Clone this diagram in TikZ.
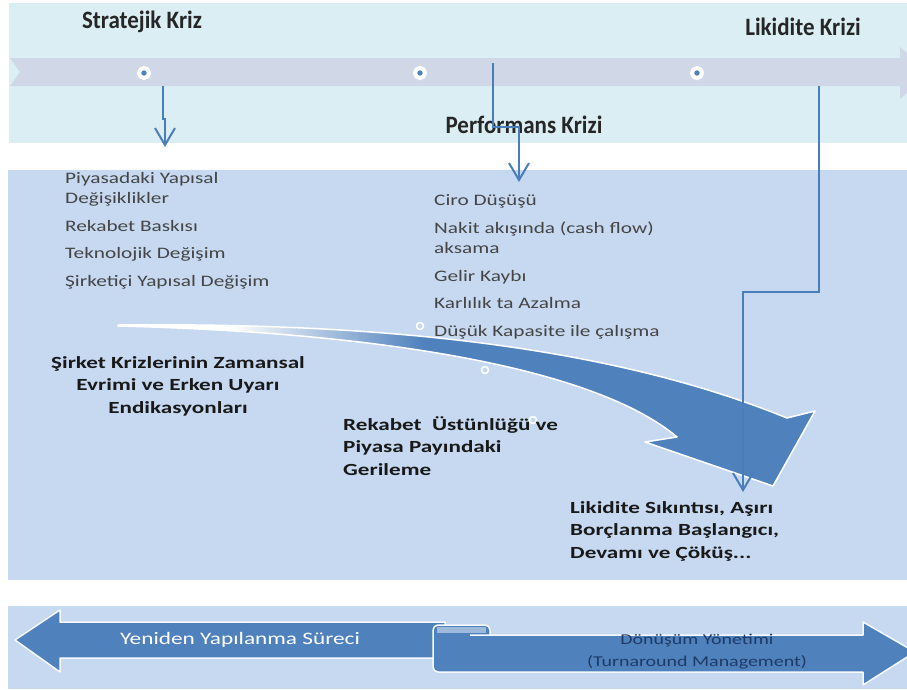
\documentclass[tikz,border=0pt]{standalone}
\usepackage{fontspec}
\setmainfont{Carlito}
\newfontfamily\widefont[FakeStretch=1.33]{Carlito}
\newfontfamily\boldwidefont[FakeStretch=1.36]{Carlito}
\newfontfamily\narrowfont[FakeStretch=0.92]{Carlito}
\usetikzlibrary{arrows.meta}

\definecolor{bandcyan}{HTML}{DBEEF4}
\definecolor{timeband}{HTML}{D0D8E8}
\definecolor{boxblue}{HTML}{C6D9F1}
\definecolor{arrowblue}{HTML}{4F81BD}
\definecolor{linkblue}{HTML}{4A7EBB}
\definecolor{listgrey}{HTML}{454545}
\definecolor{navytext}{HTML}{1F3A66}
\pgfdeclarehorizontalshading{tailfade}{100bp}{color(0bp)=(white); color(33bp)=(white); color(47bp)=(arrowblue); color(100bp)=(arrowblue)}

\begin{document}
\begin{tikzpicture}[x=1pt, y=-1pt,
    conn/.style={draw=linkblue, line width=2pt, -{Straight Barb[length=17pt,width=20pt]}},
    dotmark/.style={circle, fill=arrowblue, draw=white, line width=4pt, minimum size=10pt, inner sep=0pt},
    bubble/.style={circle, fill=boxblue, draw=white, line width=1.5pt, minimum size=7pt, inner sep=0pt},
    headtext/.style={font=\narrowfont\bfseries\fontsize{25}{28}\selectfont, text=black!85, inner sep=0pt},
    listtext/.style={font=\widefont\fontsize{16}{20}\selectfont, text=listgrey, align=left, inner sep=0pt},
    boldtext/.style={font=\boldwidefont\bfseries\fontsize{17}{22.5}\selectfont, text=black!90, inner sep=0pt}]
  \useasboundingbox (0,0) rectangle (907,689);
  \clip (0,0) rectangle (907,689);

  % backgrounds
  \fill[bandcyan] (9,3) rectangle (907,143);
  \fill[boxblue] (8,170) rectangle (907,580);
  \fill[boxblue] (8,606) rectangle (907,689);

  % time line
  \fill[timeband] (10,58) -- (900,58) -- (900,47) -- (930,73) -- (900,99) -- (900,86) -- (10,86) -- (20,72) -- cycle;
  \node[dotmark] (dot1) at (144,73) {};
  \node[dotmark] (dot2) at (420,73) {};
  \node[dotmark] (dot3) at (697,73) {};

  \node[headtext] (strategic) at (142,22) {Stratejik Kriz};
  \node[headtext] (performance) at (524,125) {Performans Krizi};
  \node[headtext] (liquidity) at (803,27) {Likidite Krizi};

  % curved arrow
  \path[shading=tailfade, draw=white, line width=1.5pt, line join=round]
    (118,325) .. controls (400,322) and (620,350) .. (787,418)
    -- (815,411) -- (773,486) -- (645,442) -- (677,437)
    .. controls (600,372) and (400,333) .. (118,326) -- cycle;
  \node[bubble] (bub1) at (420,326) {};
  \node[bubble] (bub2) at (485,370) {};
  \node[bubble] (bub3) at (533,420) {};

  % lists
  \node[listtext, anchor=north west] (causes) at (65,172)
    {Piyasadaki Yapısal\\Değişiklikler\\[8pt]Rekabet Baskısı\\[7.5pt]Teknolojik Değişim\\[8pt]Şirketiçi Yapısal Değişim};
  \node[listtext, anchor=north west] (signs) at (434,194)
    {Ciro Düşüşü\\[8pt]Nakit akışında (cash flow)\\aksama\\[8pt]Gelir Kaybı\\[7.5pt]Karlılık ta Azalma\\[8pt]Düşük Kapasite ile çalışma};

  \node[boldtext, align=center] (title) at (178,386)
    {Şirket Krizlerinin Zamansal\\Evrimi ve Erken Uyarı\\Endikasyonları};
  \node[boldtext, align=left, anchor=north west] (market) at (343,416)
    {Rekabet\ \ Üstünlüğü ve\\Piyasa Payındaki\\Gerileme};
  \node[boldtext, align=left, anchor=north west] (collapse) at (570,501)
    {Likidite Sıkıntısı, Aşırı\\Borçlanma Başlangıcı,\\Devamı ve Çöküş...};

  % connectors
  \coordinate (s1) at (163,86);
  \coordinate (e1) at (165,147);
  \coordinate (s2) at (493,63);
  \coordinate (e2) at (519,182);
  \coordinate (s3) at (819,86);
  \coordinate (e3) at (743,492);
  \draw[conn] (s1) -- (163,119) -| (e1);
  \draw[conn] (s2) -- (493,127) -| (e2);
  \draw[conn] (s3) -- (819,292) -| (e3);

  % bottom arrows
  \draw[fill=arrowblue, draw=white!85!boxblue, line width=1.5pt, line join=round]
    (15,640) -- (60,610) -- (60,622) -- (445,622) -- (445,658) -- (60,658) -- (60,672) -- cycle;
  \node[font=\widefont\fontsize{17.5}{20}\selectfont, text=white] (rebuild) at (240,640) {Yeniden Yapılanma Süreci};
  \draw[fill=arrowblue, draw=white!85!boxblue, line width=1.5pt, rounded corners=5pt]
    (433,625) rectangle (490,672);
  \fill[arrowblue!55!white] (437,627) rectangle (486,633);
  \draw[fill=arrowblue, draw=white!85!boxblue, line width=1.5pt, line join=round]
    (470,635) -- (863,635) -- (863,622) -- (915,652) -- (863,685) -- (863,672) -- (470,672);
  \node[font=\widefont\fontsize{15}{22}\selectfont, text=navytext, align=center] (turnaround) at (697,652)
    {Dönüşüm Yönetimi\\(Turnaround Management)};
\end{tikzpicture}
\end{document}
